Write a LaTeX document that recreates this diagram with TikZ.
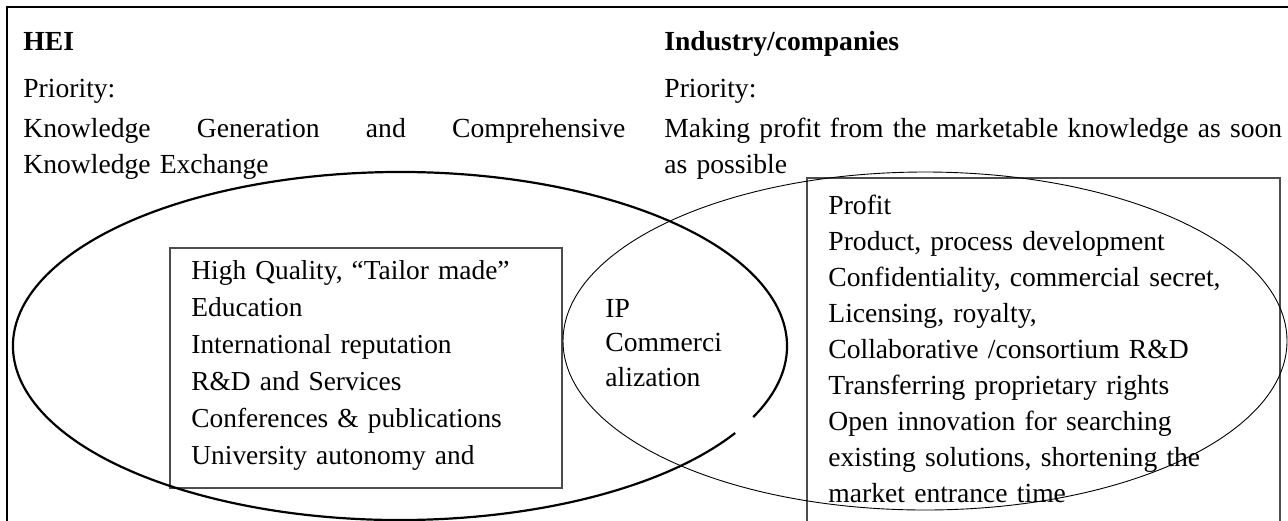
\documentclass[tikz,border=0pt]{standalone}
\usepackage{fontspec}
\setmainfont{Liberation Serif}
\usetikzlibrary{positioning}
\tikzset{
  txt/.style={anchor=base west, inner sep=0pt, font=\fontsize{13.8}{18}\selectfont},
  boxline/.style={draw=black!70, line width=0.6pt},
  heiring/.style={line width=1.1pt},
  indring/.style={line width=0.45pt}
}

\begin{document}
\begin{tikzpicture}[x=0.5pt, y=-0.5pt]
\useasboundingbox (0,0) rectangle (1288,520);
\clip (0,0) rectangle (1288,520);

% Outer frame (runs off at the right and bottom)
\draw[line width=1pt] (1295,7) -- (7,7) -- (7,530);

% Headings
\node[txt] (hei) at (23,50) {\textbf{HEI}};
\node[txt] (industry) at (664,50) {\textbf{Industry/companies}};
\node[txt] (heiprio) at (23,97) {Priority:};
\node[txt] (indprio) at (664,97) {Priority:};
\node[txt, text width=301pt] (heigoal) at (23,137)
  {\hbox to 301pt{Knowledge\hfill Generation\hfill and\hfill Comprehensive}\\Knowledge Exchange};
\node[txt, text width=315pt] (indgoal) at (664,137)
  {Making profit from the marketable knowledge as soon\\as possible};

% Boxes
\draw[boxline] (170,248) rectangle (562,488);
\draw[boxline] (807,178) rectangle (1280,540);

\node[txt, text width=190pt, font=\fontsize{13.7}{18.5}\selectfont] (heilist) at (191,279)
  {High Quality, “Tailor made”\\Education\\International reputation\\R\&D and Services\\
   Conferences \& publications\\University autonomy and};
\node[txt, text width=220pt] (indlist) at (828,214)
  {Profit\\Product, process development\\Confidentiality, commercial secret,\\Licensing, royalty,\\
   Collaborative /consortium R\&D\\Transferring proprietary rights\\Open innovation for searching\\
   existing solutions, shortening the\\market entrance time};

% Overlap
\node[txt, text width=60pt, font=\fontsize{13.8}{17.3}\selectfont] (ipc) at (605,317)
  {IP\\Commerci\\alization};

% Ellipses
\draw[heiring] (400,346) ++(30:387 and 174)
  arc[start angle=30, end angle=384.1, x radius=387, y radius=174];
\draw[indring] (925,341) ellipse [x radius=362, y radius=169];
\end{tikzpicture}
\end{document}
